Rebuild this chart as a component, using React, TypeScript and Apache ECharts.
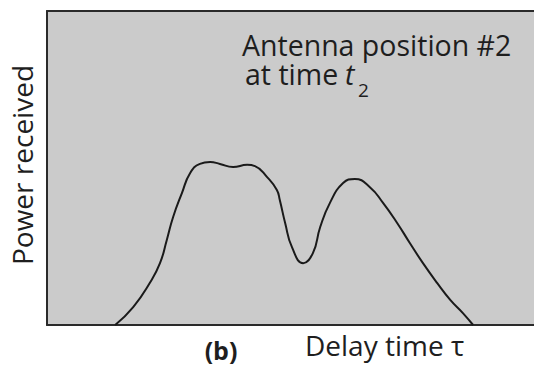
import React, { useEffect, useRef } from "react";
import * as echarts from "echarts";

// Delay time τ (arbitrary units, 0–100 across the frame)
const delayTau = [
  14.0, 17.7, 21.1, 23.2, 24.6, 25.9, 27.7, 29.4, 31.4, 33.5, 35.5, 38.2, 41.1,
  42.7, 45.2, 47.2, 47.8, 48.9, 50.3, 52.6, 54.6, 56.1, 58.1, 60.8, 63.2, 66.3,
  69.0, 71.9, 74.5, 77.2, 80.1, 82.8, 85.4, 87.5,
];
// Power received (arbitrary units, 0–100 bottom to top)
const powerReceived = [
  0, 5.7, 13.4, 19.7, 27.1, 34.4, 42.0, 48.4, 51.3, 51.9, 51.3, 50.3, 51.0,
  50.6, 47.1, 43.0, 39.8, 32.5, 24.8, 19.7, 22.9, 31.2, 38.9, 45.2, 46.5, 43.9,
  38.9, 32.5, 26.1, 19.7, 13.4, 8.0, 3.8, 0,
];

const yAxisTitle = "Power received";
const xAxisTitle = "Delay time τ";
const panelLabel = "(b)";
const noteLine1 = "Antenna position #2";
const noteLine2 = "at time";
const noteVar = "t";
const noteSub = "2";

export default function App() {
  const ref = useRef<HTMLDivElement>(null);
  useEffect(() => {
    if (!ref.current) return;
    const chart = echarts.init(ref.current, null, { renderer: "svg" });
    const font = "'Open Sans', 'Noto Sans', sans-serif";
    const ink = "#1e1e1e";
    const hiddenAxis = (position: string) => ({
      type: "value",
      min: 0,
      max: 100,
      position,
      axisLine: { show: true, onZero: false, lineStyle: { color: "#2a2a2a", width: 2 } },
      axisTick: { show: false },
      axisLabel: { show: false },
      splitLine: { show: false },
    });
    const txt = (
      text: string,
      x: number,
      y: number,
      f: string,
      lineHeight: number,
      align = "left",
      rotation = 0
    ) => ({
      type: "text",
      x,
      y,
      rotation,
      style: {
        text,
        font: f,
        lineHeight,
        fill: ink,
        align,
        verticalAlign: "middle",
      },
    });
    chart.setOption({
      animation: false,
      backgroundColor: "#ffffff",
      grid: {
        left: 47,
        right: 0,
        top: 11,
        bottom: 42,
        show: true,
        backgroundColor: "#cbcbcb",
        borderWidth: 0,
      },
      xAxis: [hiddenAxis("bottom"), hiddenAxis("top")],
      yAxis: hiddenAxis("left"),
      series: [
        {
          type: "line",
          xAxisIndex: 0,
          data: delayTau.map((t, i) => [t, powerReceived[i]]),
          smooth: 0.5,
          showSymbol: false,
          lineStyle: { color: "#1a1a1a", width: 2 },
        },
      ],
      graphic: [
        txt(yAxisTitle, 22, 165, `28px ${font}`, 28, "center", Math.PI / 2),
        txt(noteLine1, 242, 45, `28.5px ${font}`, 25),
        txt(noteLine2, 245, 74, `28.5px ${font}`, 25),
        txt(noteVar, 345, 74, `italic 28.5px ${font}`, 25),
        txt(noteSub, 358, 90, `19px ${font}`, 10),
        txt(panelLabel, 221, 350, `bold 25px ${font}`, 24, "center"),
        txt(xAxisTitle, 305, 345, `28px ${font}`, 28),
      ],
    });
    return () => chart.dispose();
  }, []);
  return (
    <div
      ref={ref}
      style={{ position: "fixed", left: 0, top: 0, width: 534, height: 367 }}
    />
  );
}
